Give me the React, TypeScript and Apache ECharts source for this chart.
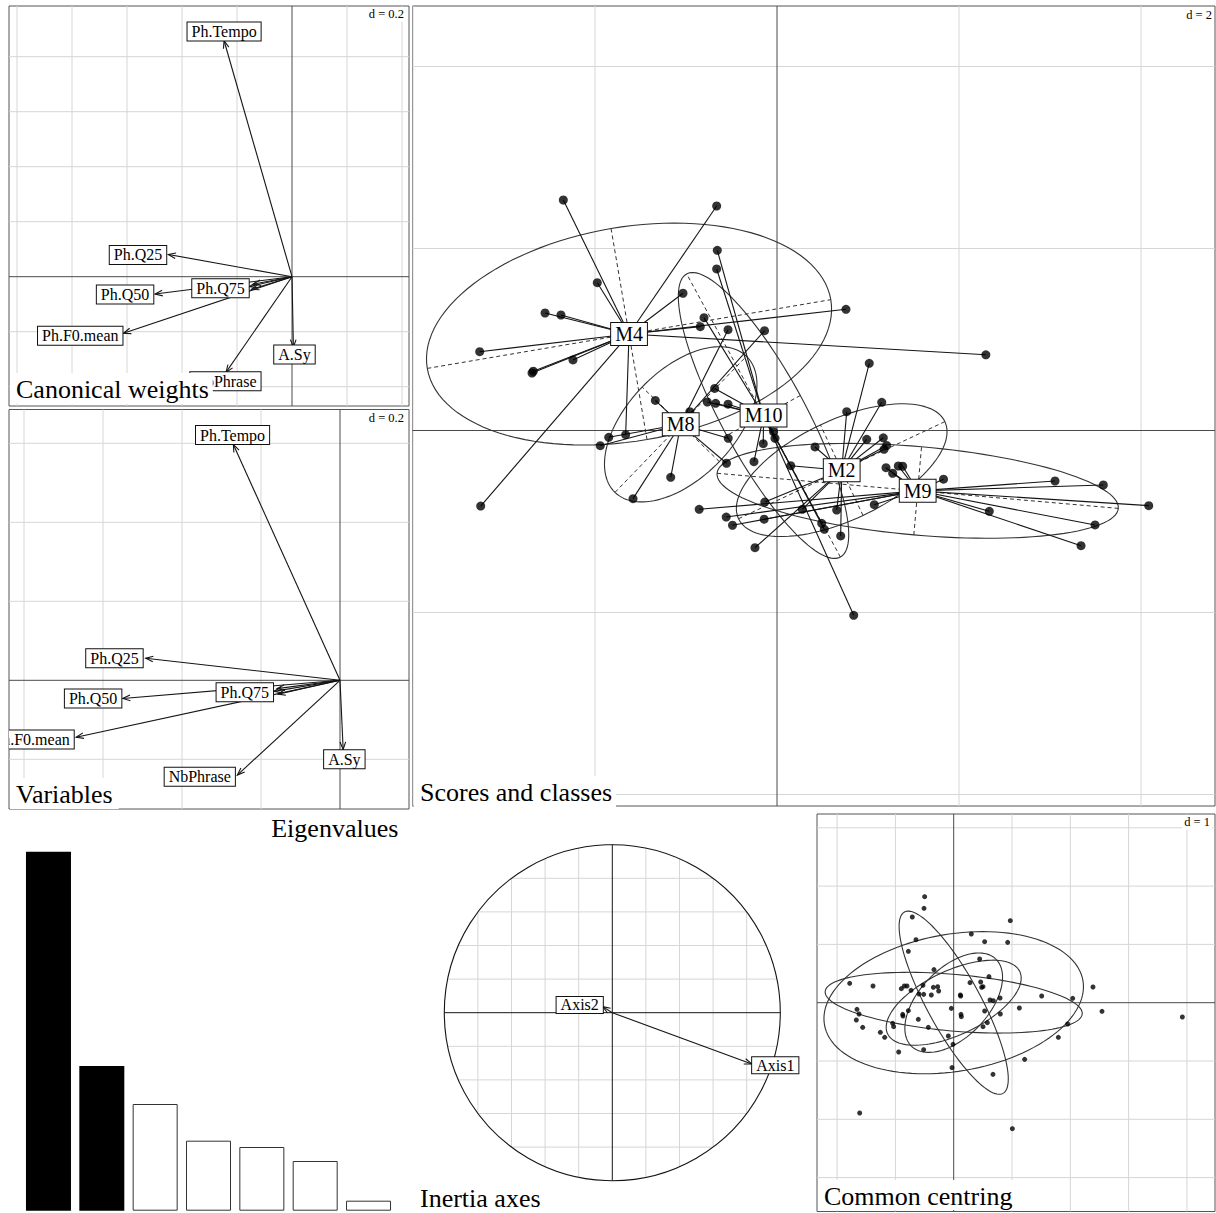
import React, { useEffect, useRef } from "react";
import * as echarts from "echarts";

const SERIF = '"Liberation Serif", "Times New Roman", Times, serif';
const GRID_GREY = "#d6d6d6";
const AXIS_GREY = "#4a4a4a";
const INK = "#151515";

// ---------------- Canonical weights ----------------
const CW_NAMES = ["Ph.Tempo", "Ph.Q25", "Ph.Q50", "Ph.Q75", "", "", "Ph.F0.mean", "NbPhrase", "A.Sy"];
const CW_X = [-0.247, -0.45, -0.498, -0.155, -0.147, -0.141, -0.613, -0.24, 0.005];
const CW_Y = [0.858, 0.081, -0.063, -0.036, -0.046, -0.027, -0.206, -0.348, -0.256];
const CW_LABEL_X = [-0.247, -0.56, -0.607, -0.26, 0, 0, -0.77, -0.242, 0.009];
const CW_LABEL_Y = [0.892, 0.079, -0.065, -0.042, 0, 0, -0.215, -0.38, -0.283];
const CW_TICKS_X = [-1, -0.8, -0.6, -0.4, -0.2, 0.2, 0.4];
const CW_TICKS_Y = [-0.4, -0.2, 0.2, 0.4, 0.6, 0.8];

// ---------------- Variables ----------------
const VAR_NAMES = ["Ph.Tempo", "Ph.Q25", "Ph.Q50", "Ph.Q75", "", "", "Ph.F0.mean", "NbPhrase", "A.Sy"];
const VAR_X = [-0.27, -0.492, -0.55, -0.167, -0.159, -0.157, -0.668, -0.26, 0.008];
const VAR_Y = [0.597, 0.056, -0.046, -0.028, -0.021, -0.035, -0.144, -0.24, -0.175];
const VAR_LABEL_X = [-0.272, -0.571, -0.625, -0.241, 0, 0, -0.781, -0.355, 0.011];
const VAR_LABEL_Y = [0.621, 0.056, -0.046, -0.03, 0, 0, -0.15, -0.244, -0.2];
const VAR_TICKS_X = [-0.8, -0.6, -0.4, -0.2];
const VAR_TICKS_Y = [-0.2, 0.2, 0.4, 0.6];

// ---------------- Scores and classes ----------------
const CLASS_NAMES = ["M4", "M8", "M10", "M2", "M9"];
const CLASS_X = [-1.626, -1.058, -0.148, 0.711, 1.546];
const CLASS_Y = [1.06, 0.068, 0.165, -0.436, -0.663];
const ELL_A = [2.249, 1.04, 1.77, 1.253, 2.213];
const ELL_B = [1.176, 0.59, 0.46, 0.55, 0.486];
const ELL_ANGLE = [9.67, 46, 118.5, 25.2, -5];

const SCORE_CLASS = [
  0, 0, 0, 0, 0, 0, 0, 0, 0, 0, 0, 0, 0, 0, 0,
  1, 1, 1, 1, 1, 1, 1, 1, 1, 1,
  2, 2, 2, 2, 2, 2, 2, 2, 2, 2, 2, 2, 2, 2,
  3, 3, 3, 3, 3, 3, 3, 3, 3, 3, 3, 3, 3, 3,
  4, 4, 4, 4, 4, 4, 4, 4, 4, 4, 4, 4, 4, 4, 4, 4,
];
const SCORE_X = [
  -2.348, -0.663, -1.975, -1.033, -2.549, -2.374, -0.843, 0.758, -3.267, -2.242, -2.678, -2.692, 2.295, -1.663, -3.256,
  -0.538, -0.137, -1.337, -1.849, -1.942, -1.168, -1.582, -0.536, -0.555, -0.958,
  -0.656, -0.663, -0.802, -0.685, -0.766, -0.674, -0.538, -0.038, -0.022, -0.151, 0.843, -0.253, 0.491, 0.52,
  1.014, 1.151, 0.766, 0.418, 0.986, 1.168, 1.205, 1.176, 0.151, -0.134, 0.278, 0.656, 0.7, -0.242,
  3.055, 3.586, 4.085, 2.333, 3.495, 3.341, 1.83, -0.855, -0.558, -0.489, -0.141, 1.069, 1.381, 1.333, 1.271, 1.198,
];
const SCORE_Y = [
  2.533, 2.467, 1.624, 1.508, 1.291, 1.269, 1.141, 1.332, 0.866, 0.775, 0.651, 0.632, 0.832, -0.046, -0.83,
  1.108, 1.097, 0.33, -0.075, -0.167, -0.514, -0.749, -0.086, -0.36, 0.207,
  1.98, 1.775, 1.24, 0.462, 0.313, 0.299, 0.289, -0.013, -0.086, -0.145, -2.031, -0.343, -1.02, -1.086,
  0.738, 0.31, 0.207, -0.181, -0.097, -0.08, -0.165, -0.207, -0.387, -0.786, -0.866, -0.874, -1.159, -1.288,
  -0.555, -0.599, -0.826, -0.888, -1.038, -1.266, -0.535, -0.866, -0.951, -1.041, -0.975, -0.815, -0.393, -0.39, -0.47, -0.409,
];
const SC_TICKS_X = [-4, -2, 2, 4];
const SC_TICKS_Y = [-4, -2, 2, 4];

// ---------------- Common centring ----------------
const CC_X = [
  -0.498, -0.509, -0.71, 0.971, 0.302, -0.647, 0.531, 0.926, -0.778, 0.445, -0.338, 0.605, -1.784, -1.384, 0.28, 0.463,
  0.48, 0.502, 2.389, -0.898, -0.847, -0.801, -0.732, -0.527, -0.349, -0.275, -0.258, -0.595, -0.515, -0.384, 0.114,
  0.12, 1.509, 0.623, 0.68, 0.795, 2.041, -1.659, -1.624, -1.67, -1.561, -0.041, 1.126, 0.531, 2.544, 3.922, -0.778,
  -0.875, -0.87, 0.125, 0.131, 0.8, -0.607, 0.577, 0.503, -1.047, -1.03, -0.435, 1.955, -1.258, -1.184, -0.092, 1.795,
  -0.012, -0.515, -0.944, 1.217, -0.029, 0.674, -1.613, 1.006,
];
const CC_Y = [
  1.819, 1.619, 1.47, 1.407, 1.178, 1.081, 1.047, 1.035, 0.881, 0.75, 0.567, 0.447, 0.332, 0.286, 0.344, 0.355,
  0.264, 0.275, 0.269, 0.241, 0.286, 0.286, 0.212, 0.298, 0.264, 0.275, 0.201, 0.149, 0.143, 0.132, 0.132,
  0.115, 0.115, 0.046, 0.035, 0.081, 0.075, -0.114, -0.194, -0.297, -0.423, -0.097, -0.091, -0.142, -0.148, -0.245, -0.137,
  -0.2, -0.229, -0.2, -0.24, -0.194, -0.285, -0.342, -0.411, -0.354, -0.411, -0.423, -0.365, -0.508, -0.594, -0.571, -0.594,
  -0.714, -0.806, -0.846, -0.972, -1.114, -1.229, -1.892, -2.161,
];
const CC_TICKS_X = [-2, -1, 1, 2, 3, 4];
const CC_TICKS_Y = [-3, -2, -1, 1, 2, 3];

// ---------------- Inertia axes ----------------
const IA_NAMES = ["Axis1", "Axis2"];
const IA_X = [0.83, -0.057];
const IA_Y = [-0.305, 0.036];
const IA_LABEL_X = [0.97, -0.194];
const IA_LABEL_Y = [-0.313, 0.046];
const IA_TICKS = [-0.8, -0.6, -0.4, -0.2, 0.2, 0.4, 0.6, 0.8];

// ---------------- Eigenvalues ----------------
const EIG_LABELS = ["1", "2", "3", "4", "5", "6", "7"];
const EIG = [3.59, 1.447, 1.067, 0.7, 0.637, 0.497, 0.1];
const EIG_KEPT = 2;

// ---------------- layout ----------------
type Panel = { box: number[]; origin: number[]; scale: number };
const P_CW: Panel = { box: [9, 6, 409, 406], origin: [292, 276.7], scale: 275 };
const P_VAR: Panel = { box: [9, 409.5, 409, 809], origin: [340, 680.3], scale: 395 };
const P_SC: Panel = { box: [412.5, 6, 1215, 806], origin: [777, 430.5], scale: 91 };
const P_CC: Panel = { box: [817, 814, 1215, 1211.5], origin: [953.7, 1002.7], scale: 58.3 };
const P_IA: Panel = { box: [410, 810, 814, 1213], origin: [612.3, 1012.7], scale: 168 };

function extent(p: Panel) {
  const [l, t, r, b] = p.box;
  const [ox, oy] = p.origin;
  const s = p.scale;
  return { x: [(l - ox) / s, (r - ox) / s], y: [(oy - b) / s, (oy - t) / s] };
}

function panelGrid(p: Panel, border: boolean) {
  const [l, t, r, b] = p.box;
  return {
    left: l,
    top: t,
    width: r - l,
    height: b - t,
    show: border,
    borderColor: "#555",
    borderWidth: 1,
    backgroundColor: "transparent",
    containLabel: false,
  };
}

function seg(api: any, ch: any[], a: number[], b: number[], stroke: string, dash?: number[], width = 1) {
  const p1 = api.coord(a);
  const p2 = api.coord(b);
  const style: any = { stroke, lineWidth: width };
  if (dash) style.lineDash = dash;
  ch.push({ type: "line", shape: { x1: p1[0], y1: p1[1], x2: p2[0], y2: p2[1] }, style });
}

function gridSeries(idx: number, p: Panel, xs: number[], ys: number[]) {
  const e = extent(p);
  return {
    type: "custom",
    xAxisIndex: idx,
    yAxisIndex: idx,
    z: 1,
    silent: true,
    data: [[0, 0]],
    renderItem: (_: any, api: any) => {
      const ch: any[] = [];
      xs.forEach((v) => seg(api, ch, [v, e.y[0]], [v, e.y[1]], GRID_GREY));
      ys.forEach((v) => seg(api, ch, [e.x[0], v], [e.x[1], v], GRID_GREY));
      seg(api, ch, [0, e.y[0]], [0, e.y[1]], AXIS_GREY);
      seg(api, ch, [e.x[0], 0], [e.x[1], 0], AXIS_GREY);
      return { type: "group", children: ch };
    },
  };
}

function arrowSeries(idx: number, xs: number[], ys: number[]) {
  return {
    type: "custom",
    xAxisIndex: idx,
    yAxisIndex: idx,
    z: 3,
    silent: true,
    data: xs.map((x, i) => [x, ys[i]]),
    renderItem: (_: any, api: any) => {
      const o = api.coord([0, 0]);
      const t = api.coord([api.value(0), api.value(1)]);
      const dx = t[0] - o[0];
      const dy = t[1] - o[1];
      const len = Math.hypot(dx, dy) || 1;
      const ux = dx / len;
      const uy = dy / len;
      const L = 8;
      const c = Math.cos(0.36);
      const s = Math.sin(0.36);
      const h1 = [t[0] + L * (-ux * c + uy * s), t[1] + L * (-ux * s - uy * c)];
      const h2 = [t[0] + L * (-ux * c - uy * s), t[1] + L * (ux * s - uy * c)];
      return {
        type: "group",
        children: [
          { type: "line", shape: { x1: o[0], y1: o[1], x2: t[0], y2: t[1] }, style: { stroke: INK, lineWidth: 1.1 } },
          { type: "polyline", shape: { points: [h1, t, h2] }, style: { stroke: INK, lineWidth: 1.1, fill: "none" } },
        ],
      };
    },
  };
}

function labelSeries(
  idx: number,
  names: string[],
  lx: number[],
  ly: number[],
  fontSize: number,
  padding: number[],
  z: number,
  clip: boolean
) {
  const items: number[] = [];
  names.forEach((n, i) => {
    if (n) items.push(i);
  });
  return {
    type: "custom",
    xAxisIndex: idx,
    yAxisIndex: idx,
    z,
    clip,
    silent: true,
    data: items.map((i) => [lx[i], ly[i]]),
    renderItem: (params: any, api: any) => {
      const p = api.coord([api.value(0), api.value(1)]);
      const text = names[items[params.dataIndex]];
      return {
        type: "text",
        x: p[0],
        y: p[1],
        style: {
          text,
          fill: "#000",
          fontSize,
          fontFamily: SERIF,
          font: `${fontSize}px ${SERIF}`,
          lineHeight: fontSize,
          align: "center",
          textAlign: "center",
          verticalAlign: "middle",
          textVerticalAlign: "middle",
          backgroundColor: "#fff",
          borderColor: "#111",
          borderWidth: 1,
          padding,
        },
      };
    },
  };
}

function ellipseSeries(idx: number, cx: number[], cy: number[], withAxes: boolean) {
  return {
    type: "custom",
    xAxisIndex: idx,
    yAxisIndex: idx,
    z: 3,
    silent: true,
    data: CLASS_NAMES.map((_, k) => [cx[k], cy[k], ELL_A[k], ELL_B[k], ELL_ANGLE[k]]),
    renderItem: (_: any, api: any) => {
      const x0 = api.value(0);
      const y0 = api.value(1);
      const a = api.value(2);
      const b = api.value(3);
      const th = (api.value(4) * Math.PI) / 180;
      const c = Math.cos(th);
      const s = Math.sin(th);
      const pts: number[][] = [];
      const N = 120;
      for (let k = 0; k < N; k++) {
        const t = (2 * Math.PI * k) / N;
        const ex = a * Math.cos(t);
        const ey = b * Math.sin(t);
        pts.push(api.coord([x0 + ex * c - ey * s, y0 + ex * s + ey * c]));
      }
      const ch: any[] = [
        { type: "polygon", shape: { points: pts }, style: { fill: "none", stroke: "#333", lineWidth: 1.1 } },
      ];
      if (withAxes) {
        seg(api, ch, [x0 - a * c, y0 - a * s], [x0 + a * c, y0 + a * s], "#333", [4, 3]);
        seg(api, ch, [x0 + b * s, y0 - b * c], [x0 - b * s, y0 + b * c], "#333", [4, 3]);
      }
      return { type: "group", children: ch };
    },
  };
}

function valueAxes(p: Panel, idx: number) {
  const e = extent(p);
  return {
    x: { type: "value", gridIndex: idx, min: e.x[0], max: e.x[1], show: false },
    y: { type: "value", gridIndex: idx, min: e.y[0], max: e.y[1], show: false },
  };
}

function titleItem(text: string, pos: any, fontSize: number, padding: number[]) {
  return {
    text,
    ...pos,
    padding,
    backgroundColor: "#fff",
    itemGap: 0,
    textStyle: {
      fontFamily: SERIF,
      fontSize,
      fontWeight: "normal",
      color: "#000",
      lineHeight: fontSize + 2,
    },
  };
}

function buildOption() {
  const panels = [P_CW, P_VAR, P_SC, P_CC, P_IA];
  const axes = panels.map((p, i) => valueAxes(p, i));
  const xAxis: any[] = axes.map((a) => a.x);
  const yAxis: any[] = axes.map((a) => a.y);
  xAxis.push({ type: "category", gridIndex: 5, data: EIG_LABELS, show: false, boundaryGap: true });
  yAxis.push({ type: "value", gridIndex: 5, min: 0, max: EIG[0], show: false });

  const grid = [
    panelGrid(P_CW, true),
    panelGrid(P_VAR, true),
    panelGrid(P_SC, true),
    panelGrid(P_CC, true),
    panelGrid(P_IA, false),
    { left: 21.8, top: 851.7, width: 373.4, height: 359, show: false, containLabel: false },
  ];

  const series: any[] = [];
  // Canonical weights
  series.push(gridSeries(0, P_CW, CW_TICKS_X, CW_TICKS_Y));
  series.push(arrowSeries(0, CW_X, CW_Y));
  series.push(labelSeries(0, CW_NAMES, CW_LABEL_X, CW_LABEL_Y, 16, [1, 4], 4, true));
  // Variables
  series.push(gridSeries(1, P_VAR, VAR_TICKS_X, VAR_TICKS_Y));
  series.push(arrowSeries(1, VAR_X, VAR_Y));
  series.push(labelSeries(1, VAR_NAMES, VAR_LABEL_X, VAR_LABEL_Y, 16, [1, 4], 4, true));
  // Scores and classes
  series.push(gridSeries(2, P_SC, SC_TICKS_X, SC_TICKS_Y));
  series.push(ellipseSeries(2, CLASS_X, CLASS_Y, true));
  series.push({
    type: "custom",
    xAxisIndex: 2,
    yAxisIndex: 2,
    z: 3,
    silent: true,
    data: SCORE_X.map((x, i) => [x, SCORE_Y[i], CLASS_X[SCORE_CLASS[i]], CLASS_Y[SCORE_CLASS[i]]]),
    renderItem: (_: any, api: any) => {
      const p = api.coord([api.value(0), api.value(1)]);
      const c = api.coord([api.value(2), api.value(3)]);
      return { type: "line", shape: { x1: c[0], y1: c[1], x2: p[0], y2: p[1] }, style: { stroke: INK, lineWidth: 1.1 } };
    },
  });
  series.push({
    type: "scatter",
    xAxisIndex: 2,
    yAxisIndex: 2,
    z: 4,
    silent: true,
    symbol: "circle",
    symbolSize: 9,
    itemStyle: { color: "#000" },
    data: SCORE_X.map((x, i) => [x, SCORE_Y[i]]),
  });
  series.push(labelSeries(2, CLASS_NAMES, CLASS_X, CLASS_Y, 20, [1, 4], 5, false));
  // Common centring
  series.push(gridSeries(3, P_CC, CC_TICKS_X, CC_TICKS_Y));
  series.push(ellipseSeries(3, CLASS_NAMES.map(() => 0), CLASS_NAMES.map(() => 0), false));
  series.push({
    type: "scatter",
    xAxisIndex: 3,
    yAxisIndex: 3,
    z: 4,
    silent: true,
    symbol: "circle",
    symbolSize: 5,
    itemStyle: { color: "#000" },
    data: CC_X.map((x, i) => [x, CC_Y[i]]),
  });
  // Inertia axes
  series.push({
    type: "custom",
    xAxisIndex: 4,
    yAxisIndex: 4,
    z: 1,
    silent: true,
    data: [[0, 0]],
    renderItem: (_: any, api: any) => {
      const ch: any[] = [];
      IA_TICKS.forEach((v) => {
        const h = Math.sqrt(1 - v * v);
        seg(api, ch, [v, -h], [v, h], GRID_GREY);
        seg(api, ch, [-h, v], [h, v], GRID_GREY);
      });
      seg(api, ch, [-1, 0], [1, 0], INK);
      seg(api, ch, [0, -1], [0, 1], INK);
      const o = api.coord([0, 0]);
      const r = api.coord([1, 0])[0] - o[0];
      ch.push({ type: "circle", shape: { cx: o[0], cy: o[1], r }, style: { fill: "none", stroke: INK, lineWidth: 1.1 } });
      return { type: "group", children: ch };
    },
  });
  series.push(arrowSeries(4, IA_X, IA_Y));
  series.push(labelSeries(4, IA_NAMES, IA_LABEL_X, IA_LABEL_Y, 16, [0, 4], 4, false));
  // Eigenvalues
  series.push({
    type: "bar",
    xAxisIndex: 5,
    yAxisIndex: 5,
    barWidth: 45,
    silent: true,
    data: EIG.map((v, i) => ({
      value: v,
      itemStyle:
        i < EIG_KEPT
          ? { color: "#000", borderColor: "#000", borderWidth: 0 }
          : { color: "#fff", borderColor: "#333", borderWidth: 1 },
    })),
  });

  const title = [
    titleItem("Canonical weights", { left: 10, top: 373 }, 26, [2, 4, 1, 6]),
    titleItem("Variables", { left: 10, top: 778 }, 26, [2, 6, 1, 6]),
    titleItem("Scores and classes", { left: 414, top: 776 }, 26, [2, 4, 1, 6]),
    titleItem("Inertia axes", { left: 414, top: 1182 }, 26, [2, 4, 1, 6]),
    titleItem("Common centring", { left: 818, top: 1180 }, 26, [2, 4, 0, 6]),
    titleItem("Eigenvalues", { right: 815.7, top: 812 }, 26, [2, 2, 1, 4]),
    titleItem("d = 0.2", { right: 810, top: 7 }, 12.5, [0, 2]),
    titleItem("d = 0.2", { right: 810, top: 411 }, 12.5, [0, 2]),
    titleItem("d = 2", { right: 2, top: 7.3 }, 12.5, [0, 2]),
    titleItem("d = 1", { right: 4, top: 815 }, 12.5, [0, 2]),
  ];

  return {
    animation: false,
    backgroundColor: "#fff",
    title,
    grid,
    xAxis,
    yAxis,
    series,
  };
}

export default function App() {
  const ref = useRef<HTMLDivElement>(null);
  useEffect(() => {
    if (!ref.current) return;
    const chart = echarts.init(ref.current, null, { renderer: "svg" });
    chart.setOption(buildOption() as any);
    return () => chart.dispose();
  }, []);
  return (
    <div
      ref={ref}
      style={{ position: "absolute", left: 0, top: 0, width: 1216, height: 1213, background: "#fff" }}
    />
  );
}
